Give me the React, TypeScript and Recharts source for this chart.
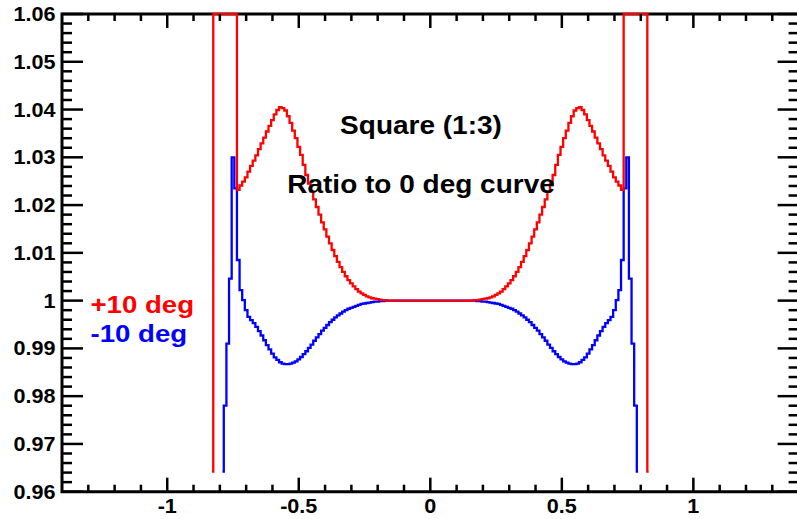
import { LineChart, Line, XAxis, YAxis, ReferenceArea } from "recharts";

// histogram bins are 0.01 wide, listed by bin centre from the first one
const BIN = 0.01;
const RED_FIRST = -0.83;
const BLUE_FIRST = -0.79;

// +10 deg / 0 deg ratio (values above the frame are shown at 1.06)
const RED_VALUES = [
  0.9642, 1.06, 1.06, 1.06, 1.06, 1.06, 1.06, 1.06, 1.06, 1.06,
  1.0232, 1.0241, 1.0249, 1.0258, 1.027, 1.0282, 1.0293, 1.0304, 1.0317, 1.0329,
  1.0341, 1.0354, 1.0366, 1.0378, 1.039, 1.0399, 1.0405, 1.0403, 1.0398, 1.0386,
  1.0372, 1.0356, 1.034, 1.0322, 1.0305, 1.0284, 1.0263, 1.0245, 1.0228, 1.0212,
  1.0196, 1.018, 1.0164, 1.0149, 1.0134, 1.012, 1.0106, 1.0093, 1.0081, 1.007,
  1.006, 1.0051, 1.0043, 1.0036, 1.003, 1.0024, 1.0019, 1.0015, 1.0012, 1.0009,
  1.0007, 1.0005, 1.0004, 1.0003, 1.0002, 1.0001, 1.0001, 1, 1, 1,
  1, 1, 1, 1, 1, 1, 1, 1, 1, 1,
  1, 1, 1,
  1,
  1, 1, 1,
  1, 1, 1, 1, 1, 1, 1, 1, 1, 1,
  1, 1, 1, 1.0001, 1.0001, 1.0002, 1.0003, 1.0004, 1.0005, 1.0007,
  1.0009, 1.0012, 1.0015, 1.0019, 1.0024, 1.003, 1.0036, 1.0043, 1.0051, 1.006,
  1.007, 1.0081, 1.0093, 1.0106, 1.012, 1.0134, 1.0149, 1.0164, 1.018, 1.0196,
  1.0212, 1.0228, 1.0245, 1.0263, 1.0284, 1.0305, 1.0322, 1.034, 1.0356, 1.0372,
  1.0386, 1.0398, 1.0403, 1.0405, 1.0399, 1.039, 1.0378, 1.0366, 1.0354, 1.0341,
  1.0329, 1.0317, 1.0304, 1.0293, 1.0282, 1.027, 1.0258, 1.0249, 1.0241, 1.0232,
  1.06, 1.06, 1.06, 1.06, 1.06, 1.06, 1.06, 1.06, 1.06, 0.9642,
];

// -10 deg / 0 deg ratio
const BLUE_VALUES = [
  0.9642, 0.978, 0.991, 1.0046, 1.03, 1.0235, 1.0085, 1.0022, 1.0001, 0.998,
  0.9966, 0.9959, 0.9953, 0.9945, 0.9936, 0.9927, 0.9917, 0.9907, 0.9898, 0.9889,
  0.9881, 0.9876, 0.9871, 0.9868, 0.9867, 0.9867, 0.9868, 0.987, 0.9873, 0.9877,
  0.9882, 0.9888, 0.9894, 0.9901, 0.9908, 0.9916, 0.9923, 0.993, 0.9937, 0.9943,
  0.9949, 0.9955, 0.996, 0.9965, 0.9969, 0.9973, 0.9977, 0.998, 0.9983, 0.9985,
  0.9987, 0.9989, 0.9991, 0.9993, 0.9994, 0.9995, 0.9996, 0.9997, 0.9998, 0.9998,
  0.9999, 0.9999, 1, 1, 1, 1, 1, 1, 1, 1,
  1, 1, 1, 1, 1, 1, 1, 1, 1,
  1,
  1, 1, 1, 1, 1, 1, 1, 1, 1,
  1, 1, 1, 1, 1, 1, 1, 1, 0.9999, 0.9999,
  0.9998, 0.9998, 0.9997, 0.9996, 0.9995, 0.9994, 0.9993, 0.9991, 0.9989, 0.9987,
  0.9985, 0.9983, 0.998, 0.9977, 0.9973, 0.9969, 0.9965, 0.996, 0.9955, 0.9949,
  0.9943, 0.9937, 0.993, 0.9923, 0.9916, 0.9908, 0.9901, 0.9894, 0.9888, 0.9882,
  0.9877, 0.9873, 0.987, 0.9868, 0.9867, 0.9867, 0.9868, 0.9871, 0.9876, 0.9881,
  0.9889, 0.9898, 0.9907, 0.9917, 0.9927, 0.9936, 0.9945, 0.9953, 0.9959, 0.9966,
  0.998, 1.0001, 1.0022, 1.0085, 1.0235, 1.03, 1.0046, 0.991, 0.978, 0.9642,
];

const X_DOMAIN = [-1.4, 1.4];
const Y_DOMAIN = [0.96, 1.06];
const X_LABELS: [number, string][] = [[-1, "-1"], [-0.5, "-0.5"], [0, "0"], [0.5, "0.5"], [1, "1"]];
const Y_LABELS: [number, string][] = [
  [0.96, "0.96"], [0.97, "0.97"], [0.98, "0.98"], [0.99, "0.99"], [1, "1"],
  [1.01, "1.01"], [1.02, "1.02"], [1.03, "1.03"], [1.04, "1.04"], [1.05, "1.05"], [1.06, "1.06"],
];
// minor tick grid: every 0.1 in x, every 0.002 in y
const X_TICKS = Array.from({ length: 27 }, (_, i) => Math.round((-1.3 + i * 0.1) * 10) / 10);
const Y_TICKS = Array.from({ length: 51 }, (_, i) => Math.round((0.96 + i * 0.002) * 1000) / 1000);

const redData = RED_VALUES.map((v, i) => ({ x: Math.round((RED_FIRST + i * BIN) * 100) / 100, v }));
const blueData = BLUE_VALUES.map((v, i) => ({ x: Math.round((BLUE_FIRST + i * BIN) * 100) / 100, v }));

const W = 800;
const H = 519;
const MARGIN = { top: 14, right: 1.4, bottom: 0, left: 0 };
const Y_AXIS_W = 62;
const X_AXIS_H = 27.3;
const PLOT_W = W - MARGIN.left - MARGIN.right - Y_AXIS_W;
const PLOT_H = H - MARGIN.top - MARGIN.bottom - X_AXIS_H;

const FONT = {
  fontFamily: '"Liberation Sans", Arial, Helvetica, sans-serif',
  fontWeight: 700,
};

function labelFor(list: [number, string][], v: number) {
  const hit = list.find(([t]) => Math.abs(t - v) < 1e-6);
  return hit ? hit[1] : null;
}

function XTick({ x, y, payload }: any) {
  const label = labelFor(X_LABELS, payload.value);
  const len = label ? 14 : 7;
  return (
    <g>
      <line x1={x} y1={y} x2={x} y2={y - len} stroke="#000" strokeWidth={2.5} />
      <line x1={x} y1={y - PLOT_H} x2={x} y2={y - PLOT_H + len} stroke="#000" strokeWidth={2.5} />
      {label && (
        <text
          transform={`translate(${x},${y + 21}) scale(1.08,1)`}
          textAnchor="middle"
          fontSize={20}
          fill="#000"
          style={FONT}
        >
          {label}
        </text>
      )}
    </g>
  );
}

function YTick({ x, y, payload }: any) {
  const label = labelFor(Y_LABELS, payload.value);
  const len = label ? 21 : 10;
  return (
    <g>
      <line x1={x} y1={y} x2={x + len} y2={y} stroke="#000" strokeWidth={2.5} />
      <line x1={x + PLOT_W} y1={y} x2={x + PLOT_W - len} y2={y} stroke="#000" strokeWidth={2.5} />
      {label && (
        <text
          transform={`translate(${x - 6.5},${y + 7}) scale(1.08,1)`}
          textAnchor="end"
          fontSize={20}
          fill="#000"
          style={FONT}
        >
          {label}
        </text>
      )}
    </g>
  );
}

export default function App() {
  return (
    <div style={{ position: "relative", width: 797, height: H, overflow: "hidden", background: "#fff" }}>
      <style>{"body{margin:0}"}</style>
      <LineChart width={W} height={H} margin={MARGIN}>
        <XAxis
          type="number"
          dataKey="x"
          domain={X_DOMAIN}
          ticks={X_TICKS}
          interval={0}
          height={X_AXIS_H}
          tickSize={0}
          tickMargin={0}
          axisLine={false}
          tickLine={false}
          tick={(p: any) => <XTick {...p} />}
        />
        <YAxis
          type="number"
          domain={Y_DOMAIN}
          ticks={Y_TICKS}
          interval={0}
          width={Y_AXIS_W}
          tickSize={0}
          tickMargin={0}
          axisLine={false}
          tickLine={false}
          tick={(p: any) => <YTick {...p} />}
        />
        <ReferenceArea
          x1={-1.4}
          x2={1.4}
          y1={0.96}
          y2={1.06}
          fill="none"
          stroke="#000"
          strokeWidth={3}
          ifOverflow="visible"
        />
        <Line
          data={blueData}
          dataKey="v"
          type="step"
          stroke="#0000ff"
          strokeWidth={2.3}
          dot={false}
          activeDot={false}
          isAnimationActive={false}
        />
        <Line
          data={redData}
          dataKey="v"
          type="step"
          stroke="#ff0000"
          strokeWidth={2.3}
          dot={false}
          activeDot={false}
          isAnimationActive={false}
        />
      </LineChart>
      <svg
        width={797}
        height={H}
        style={{ position: "absolute", left: 0, top: 0, pointerEvents: "none" }}
      >
        <g style={FONT} fontSize={25} fill="#000">
          <text transform="translate(421,134) scale(1.12,1)" textAnchor="middle">
            Square (1:3)
          </text>
          <text transform="translate(421,193) scale(1.12,1)" textAnchor="middle">
            Ratio to 0 deg curve
          </text>
        </g>
        <g style={FONT} fontSize={23}>
          <text transform="translate(90.5,313) scale(1.2,1)" fill="#ff0000">
            +10 deg
          </text>
          <text transform="translate(90.5,341.5) scale(1.2,1)" fill="#0000ff">
            -10 deg
          </text>
        </g>
      </svg>
    </div>
  );
}
